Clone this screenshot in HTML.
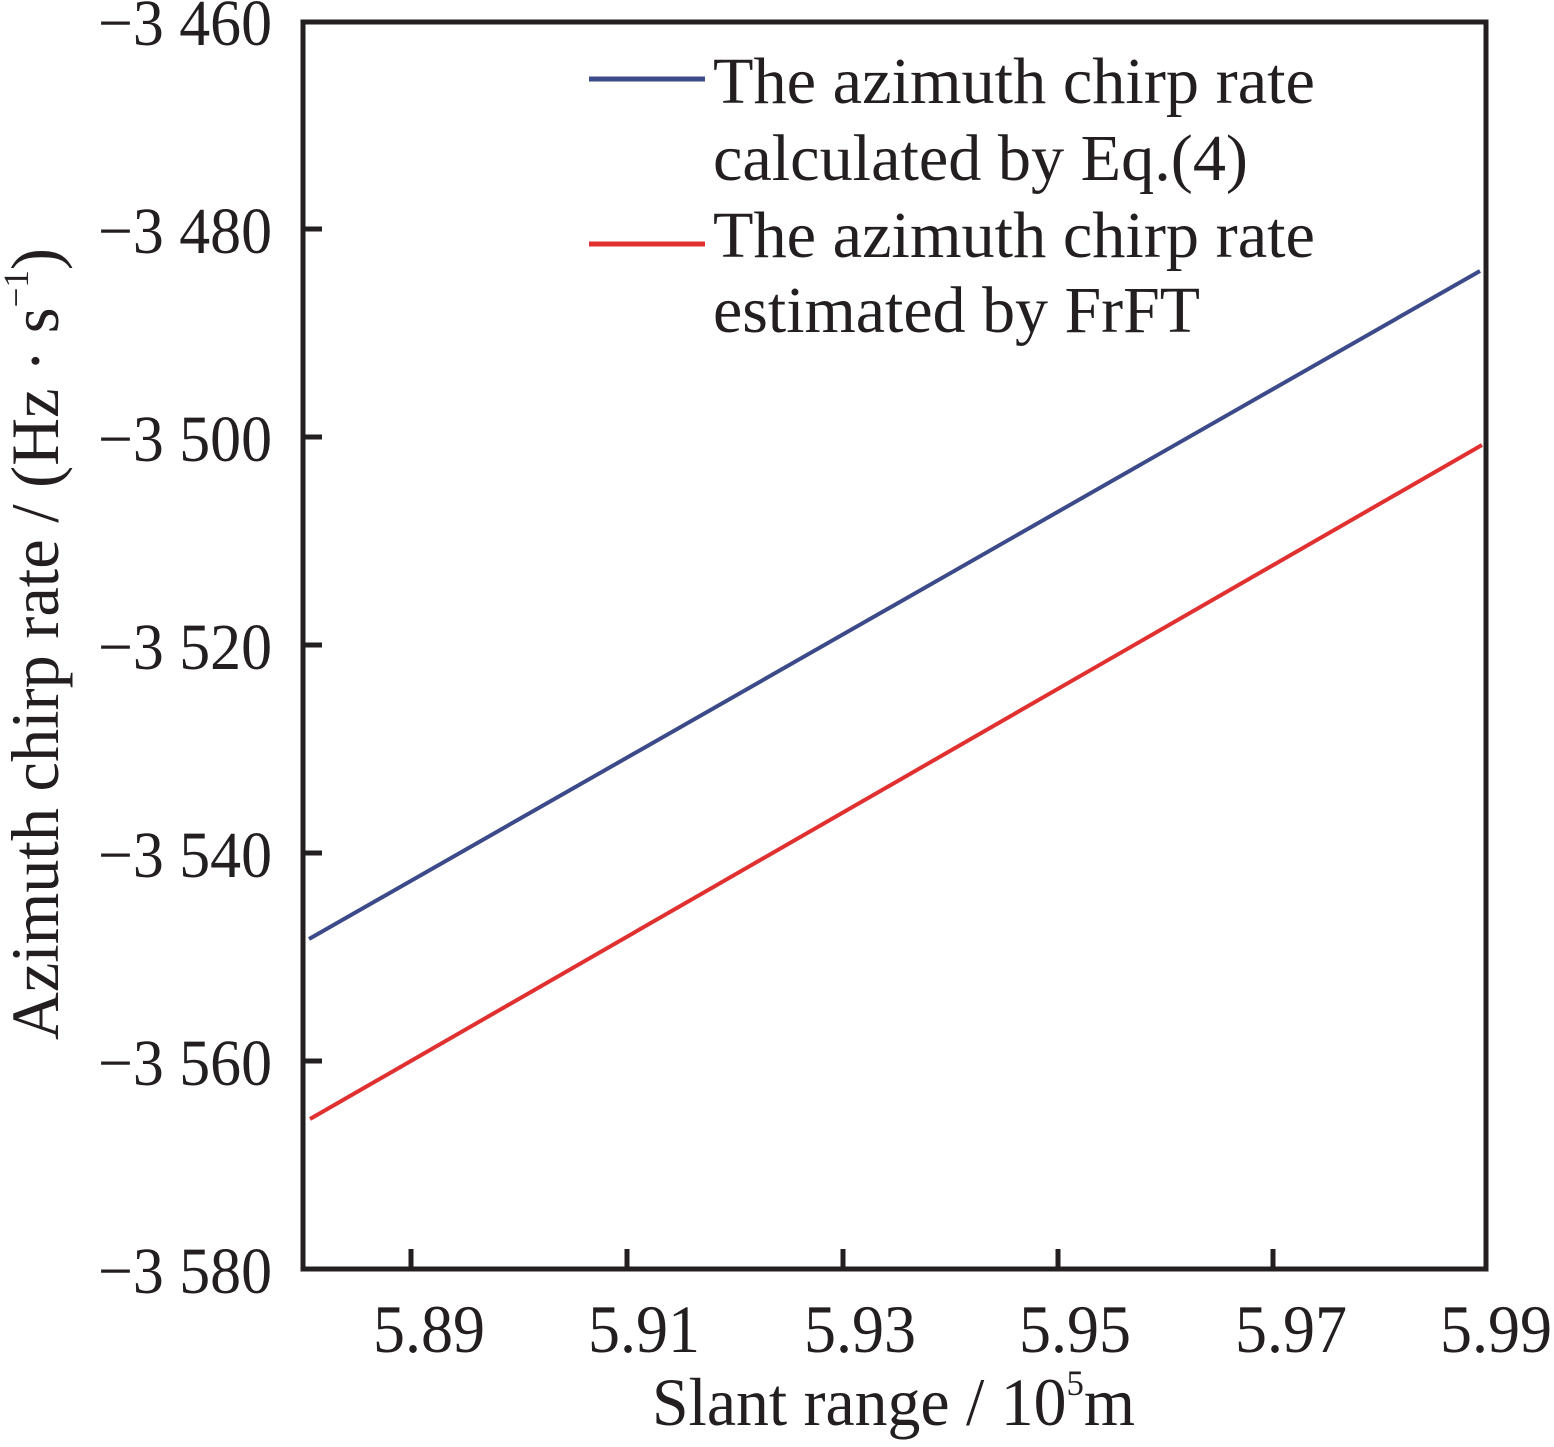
<!DOCTYPE html>
<html><head><style>body{margin:0;background:#fff}</style></head><body>
<svg width="1554" height="1442" xmlns="http://www.w3.org/2000/svg" font-family="Liberation Serif, serif" fill="#231f20">
<rect x="303" y="22" width="1183" height="1247" fill="none" stroke="#231f20" stroke-width="5"/>
<g stroke="#231f20" stroke-width="5">
<line x1="303" y1="229" x2="322" y2="229"/><line x1="303" y1="437" x2="322" y2="437"/>
<line x1="303" y1="645" x2="322" y2="645"/><line x1="303" y1="853" x2="322" y2="853"/>
<line x1="303" y1="1061" x2="322" y2="1061"/>
<line x1="411" y1="1269" x2="411" y2="1249"/><line x1="627" y1="1269" x2="627" y2="1249"/>
<line x1="843" y1="1269" x2="843" y2="1249"/><line x1="1058" y1="1269" x2="1058" y2="1249"/>
<line x1="1273" y1="1269" x2="1273" y2="1249"/>
</g>
<g font-size="66">
<text x="98" y="45" textLength="174" lengthAdjust="spacingAndGlyphs">−3 460</text>
<text x="98" y="253" textLength="174" lengthAdjust="spacingAndGlyphs">−3 480</text>
<text x="98" y="461" textLength="174" lengthAdjust="spacingAndGlyphs">−3 500</text>
<text x="98" y="669" textLength="174" lengthAdjust="spacingAndGlyphs">−3 520</text>
<text x="98" y="877" textLength="174" lengthAdjust="spacingAndGlyphs">−3 540</text>
<text x="98" y="1085" textLength="174" lengthAdjust="spacingAndGlyphs">−3 560</text>
<text x="98" y="1293" textLength="174" lengthAdjust="spacingAndGlyphs">−3 580</text>
</g>
<g font-size="68">
<text x="373" y="1352" textLength="112" lengthAdjust="spacingAndGlyphs">5.89</text>
<text x="588" y="1352" textLength="112" lengthAdjust="spacingAndGlyphs">5.91</text>
<text x="804" y="1352" textLength="112" lengthAdjust="spacingAndGlyphs">5.93</text>
<text x="1019" y="1352" textLength="112" lengthAdjust="spacingAndGlyphs">5.95</text>
<text x="1235" y="1352" textLength="112" lengthAdjust="spacingAndGlyphs">5.97</text>
<text x="1440" y="1352" textLength="112" lengthAdjust="spacingAndGlyphs">5.99</text>
</g>
<text x="652" y="1425" font-size="68" textLength="483" lengthAdjust="spacingAndGlyphs">Slant range / 10<tspan font-size="36" dy="-30">5</tspan><tspan dy="30">m</tspan></text>
<text transform="translate(58,1040) rotate(-90)" font-size="68" textLength="792" lengthAdjust="spacingAndGlyphs">Azimuth chirp rate / (Hz · s<tspan font-size="36" dy="-30">−1</tspan><tspan dy="30">)</tspan></text>
<line x1="309" y1="939" x2="1480" y2="271" stroke="#3d4a8a" stroke-width="4"/>
<line x1="310" y1="1119" x2="1482" y2="445" stroke="#e03030" stroke-width="4"/>
<line x1="589" y1="79" x2="705" y2="79" stroke="#3d4a8a" stroke-width="5"/>
<line x1="589" y1="244" x2="705" y2="244" stroke="#e03030" stroke-width="5"/>
<g font-size="66">
<text x="713" y="103" textLength="602" lengthAdjust="spacingAndGlyphs">The azimuth chirp rate</text>
<text x="713" y="180" textLength="535" lengthAdjust="spacingAndGlyphs">calculated by Eq.(4)</text>
<text x="713" y="257" textLength="602" lengthAdjust="spacingAndGlyphs">The azimuth chirp rate</text>
<text x="713" y="332" textLength="487" lengthAdjust="spacingAndGlyphs">estimated by FrFT</text>
</g>
</svg>
</body></html>
